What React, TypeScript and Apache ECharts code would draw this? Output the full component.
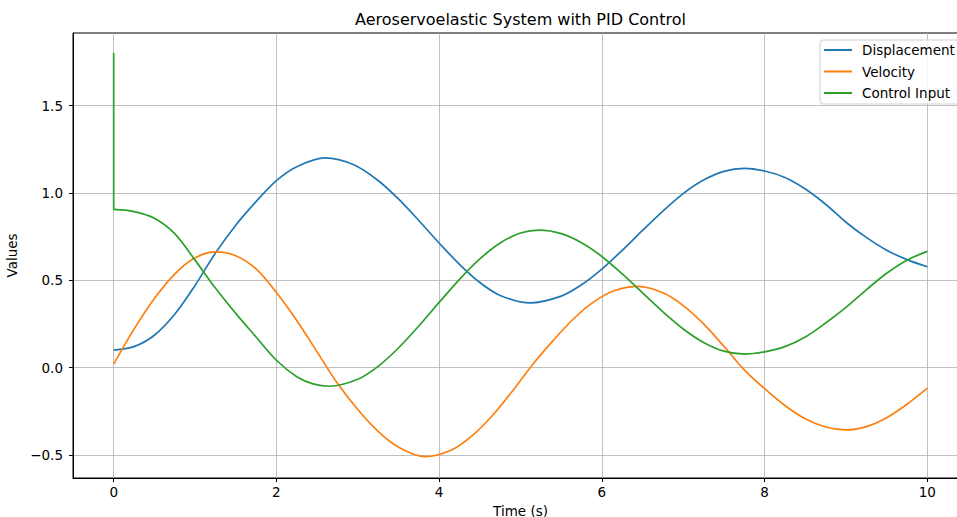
import React, { useEffect, useRef } from "react";
import * as echarts from "echarts";

const TITLE = "Aeroservoelastic System with PID Control";
const X_NAME = "Time (s)";
const Y_NAME = "Values";
const SERIES_NAMES = ["Displacement", "Velocity", "Control Input"];

// Displacement samples (time, value)
const DISP_TIME = [
  0, 0.25, 0.5, 0.75, 1, 1.25, 1.5, 1.75, 2, 2.25, 2.6, 2.95, 3.25, 3.5, 3.75, 4,
  4.25, 4.5, 4.75, 5.12, 5.5, 5.75, 6, 6.25, 6.5, 6.75, 7, 7.25, 7.5, 7.75, 8, 8.25,
  8.5, 8.75, 9, 9.25, 9.5, 9.75, 10,
];
const DISPLACEMENT = [
  0.1, 0.12, 0.185, 0.305, 0.47, 0.655, 0.815, 0.95, 1.07, 1.15, 1.2, 1.161, 1.071,
  0.965, 0.842, 0.713, 0.591, 0.487, 0.413, 0.37, 0.409, 0.474, 0.564, 0.671, 0.785,
  0.896, 0.996, 1.073, 1.123, 1.14, 1.125, 1.088, 1.022, 0.935, 0.832, 0.745, 0.672,
  0.618, 0.577,
];

// Velocity samples
const VEL_TIME = [
  0, 0.25, 0.5, 0.75, 1, 1.25, 1.5, 1.75, 2, 2.25, 2.5, 2.75, 3, 3.25, 3.5, 3.83,
  4.15, 4.4, 4.65, 4.9, 5.15, 5.4, 5.65, 5.9, 6.15, 6.45, 6.75, 7, 7.25, 7.5, 7.75,
  8, 8.25, 8.5, 8.75, 9, 9.25, 9.5, 9.75, 10,
];
const VELOCITY = [
  0.02, 0.22, 0.395, 0.535, 0.628, 0.662, 0.64, 0.565, 0.43, 0.27, 0.09, -0.09,
  -0.24, -0.365, -0.455, -0.51, -0.472, -0.392, -0.277, -0.135, 0.018, 0.154, 0.278,
  0.376, 0.44, 0.465, 0.428, 0.355, 0.25, 0.122, -0.013, -0.121, -0.217, -0.293,
  -0.34, -0.357, -0.338, -0.287, -0.21, -0.118,
];

// Control input samples (plus the initial spike at t = 0)
const CONTROL_SPIKE = 1.8;
const CTRL_TIME = [
  0, 0.25, 0.5, 0.75, 1, 1.25, 1.5, 1.75, 2, 2.25, 2.45, 2.65, 3, 3.25, 3.5, 3.75, 4,
  4.25, 4.5, 4.75, 5, 5.23, 5.5, 5.75, 6, 6.25, 6.5, 6.75, 7, 7.25, 7.5, 7.75, 8,
  8.25, 8.5, 8.75, 9, 9.25, 9.5, 9.75, 10,
];
const CONTROL_INPUT = [
  0.905, 0.893, 0.855, 0.767, 0.615, 0.455, 0.31, 0.175, 0.042, -0.052, -0.093,
  -0.107, -0.067, 0.007, 0.112, 0.238, 0.373, 0.505, 0.622, 0.713, 0.77, 0.787, 0.767,
  0.715, 0.636, 0.536, 0.428, 0.319, 0.221, 0.144, 0.094, 0.077, 0.09, 0.12, 0.175,
  0.255, 0.345, 0.445, 0.54, 0.615, 0.665,
];

const X_TICKS = [0, 2, 4, 6, 8, 10];
const Y_TICKS = [-0.5, 0, 0.5, 1, 1.5];

const COLORS = ["#1f77b4", "#ff7f0e", "#2ca02c"];
const FONT = "DejaVu Sans";

export default function App() {
  const ref = useRef<HTMLDivElement>(null);

  useEffect(() => {
    if (!ref.current) return;
    const chart = echarts.init(ref.current, undefined, { renderer: "svg" });

    const dispData = DISP_TIME.map((t, i) => [t, DISPLACEMENT[i]]);
    const velData = VEL_TIME.map((t, i) => [t, VELOCITY[i]]);
    const ctrlData = CTRL_TIME.map((t, i) => [t, CONTROL_INPUT[i]]);
    const spikeData = [
      [CTRL_TIME[0], CONTROL_SPIKE],
      [CTRL_TIME[0], CONTROL_INPUT[0]],
    ];

    const yFmt = (v: number) => (v < 0 ? "\u2212" : "") + Math.abs(v).toFixed(1);
    const lineSeries = (name: string, data: number[][], color: string, smooth: number) => ({
      name,
      type: "line",
      data,
      showSymbol: false,
      symbol: "none",
      smooth,
      color,
      lineStyle: { width: 1.7, color },
    });

    chart.setOption({
      animation: false,
      backgroundColor: "#ffffff",
      textStyle: { fontFamily: FONT },
      grid: {
        left: 73,
        top: 33,
        width: 895,
        height: 445,
        show: true,
        borderColor: "#000000",
        borderWidth: 1,
        backgroundColor: "transparent",
        containLabel: false,
        outerBoundsMode: "none",
      },
      graphic: [
        {
          type: "text",
          x: 520.5,
          y: 19,
          style: {
            text: TITLE,
            fontSize: 16,
            fontFamily: FONT,
            fill: "#000000",
            align: "center",
            verticalAlign: "middle",
          },
        },
      ],
      legend: {
        orient: "vertical",
        left: 820,
        top: 40,
        padding: [2.5, 12, 3.5, 4],
        itemGap: 6.5,
        itemWidth: 28,
        itemHeight: 2,
        icon: "rect",
        backgroundColor: "rgba(255,255,255,0.8)",
        borderColor: "#d0d0d0",
        borderWidth: 1,
        borderRadius: 3,
        textStyle: {
          fontFamily: FONT,
          fontSize: 13.5,
          color: "#000000",
          lineHeight: 15,
          padding: [0, 0, 0, 5],
        },
        data: SERIES_NAMES,
      },
      xAxis: {
        type: "value",
        min: -0.5,
        max: 10.5,
        name: X_NAME,
        nameLocation: "middle",
        nameGap: 23,
        nameTextStyle: { fontFamily: FONT, fontSize: 13.5, lineHeight: 12, color: "#000000" },
        axisLine: { show: true, onZero: false, lineStyle: { color: "#000000", width: 1 } },
        axisTick: { show: true, length: 4, customValues: X_TICKS, lineStyle: { color: "#000000" } },
        axisLabel: {
          customValues: X_TICKS,
          margin: 7,
          fontFamily: FONT,
          fontSize: 13.5,
          color: "#000000",
          formatter: (v: number) => String(v),
        },
        splitLine: { show: true, lineStyle: { color: "#b0b0b0", width: 0.8 } },
      },
      yAxis: {
        type: "value",
        min: -0.632,
        max: 1.915,
        name: Y_NAME,
        nameLocation: "middle",
        nameGap: 48,
        nameRotate: 90,
        nameTextStyle: { fontFamily: FONT, fontSize: 13.5, color: "#000000" },
        axisLine: { show: true, onZero: false, lineStyle: { color: "#000000", width: 1 } },
        axisTick: { show: true, length: 4, customValues: Y_TICKS, lineStyle: { color: "#000000" } },
        axisLabel: {
          customValues: Y_TICKS,
          margin: 10,
          fontFamily: FONT,
          fontSize: 13.5,
          color: "#000000",
          formatter: yFmt,
        },
        splitLine: { show: true, lineStyle: { color: "#b0b0b0", width: 0.8 } },
      },
      series: [
        lineSeries(SERIES_NAMES[0], dispData, COLORS[0], 0.33),
        lineSeries(SERIES_NAMES[1], velData, COLORS[1], 0.33),
        lineSeries(SERIES_NAMES[2], ctrlData, COLORS[2], 0.33),
        lineSeries(SERIES_NAMES[2], spikeData, COLORS[2], 0),
      ],
    });

    return () => {
      chart.dispose();
    };
  }, []);

  return (
    <div
      ref={ref}
      style={{ position: "absolute", left: 0, top: 0, width: 957, height: 517 }}
    />
  );
}
